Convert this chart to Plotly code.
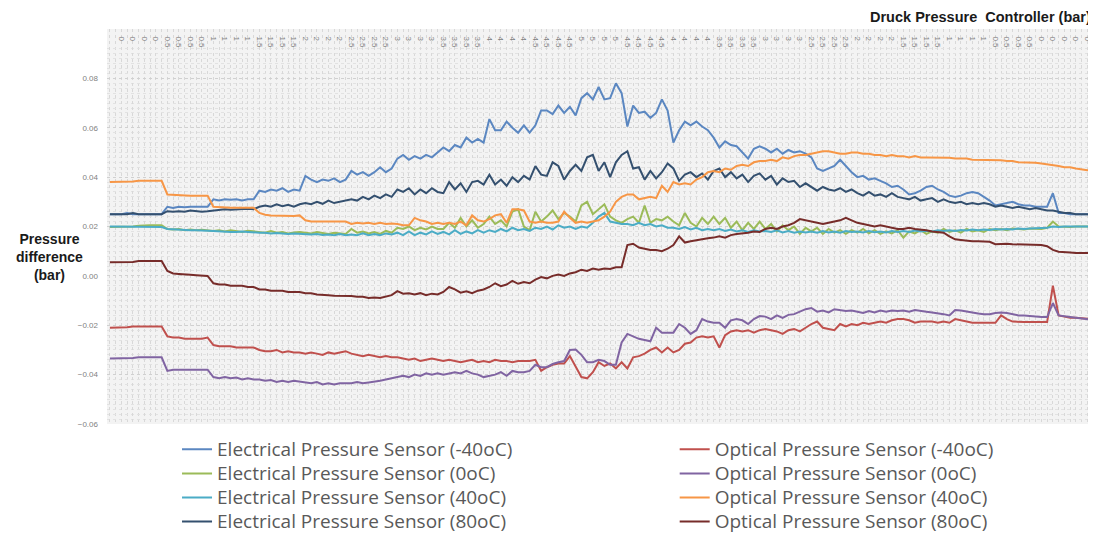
import plotly.graph_objects as go

# Druck pressure controller set-points (bar); each set-point held for several readings
controller_levels = [0, 0.5, 1, 1.5, 2, 2.5, 3, 3.5, 4, 4.5, 5, 4.5, 4, 3.5, 3, 2.5, 2, 1.5, 1, 0.5, 0]
readings_per_level = [10, 8, 8, 8, 8, 8, 8, 8, 8, 8, 8, 8, 8, 8, 8, 8, 8, 8, 8, 8, 10]

electrical_names = [
    "Electrical Pressure Sensor (-40oC)", "Electrical Pressure Sensor (0oC)",
    "Electrical Pressure Sensor (40oC)", "Electrical Pressure Sensor (80oC)",
]
optical_names = [
    "Optical Pressure Sensor (-40oC)", "Optical Pressure Sensor (0oC)",
    "Optical Pressure Sensor (40oC)", "Optical Pressure Sensor (80oC)",
]

elec_m40 = [
    0.025, 0.025, 0.025, 0.0255, 0.025, 0.025, 0.025, 0.025, 0.025, 0.025,
    0.028, 0.0275, 0.028, 0.0278, 0.028, 0.028, 0.0278, 0.028,
    0.031, 0.0305, 0.031, 0.0308, 0.031, 0.0305, 0.031, 0.031,
    0.0345, 0.034, 0.035, 0.0345, 0.0355, 0.034, 0.035, 0.0345,
    0.0405, 0.039, 0.038, 0.039, 0.0385, 0.0395, 0.038, 0.039,
    0.0425, 0.041, 0.042, 0.0405, 0.042, 0.044, 0.042, 0.0435,
    0.0475, 0.049, 0.047, 0.0485, 0.0475, 0.049, 0.048, 0.050,
    0.052, 0.0505, 0.053, 0.052, 0.056, 0.054, 0.0555, 0.054,
    0.0635, 0.059, 0.059, 0.0625, 0.060, 0.058, 0.061, 0.058,
    0.061, 0.067, 0.067, 0.0655, 0.069, 0.066, 0.0685, 0.065,
    0.072, 0.074, 0.0715, 0.0765, 0.0715, 0.072, 0.078, 0.074,
    0.0605, 0.069, 0.066, 0.0665, 0.064, 0.066, 0.0715, 0.067,
    0.054, 0.059, 0.0625, 0.061, 0.0625, 0.0605, 0.059, 0.056,
    0.052, 0.0545, 0.053, 0.0525, 0.050, 0.0475, 0.0515, 0.0525,
    0.0515, 0.050, 0.0515, 0.0495, 0.051, 0.050, 0.0505, 0.0495,
    0.048, 0.0435, 0.0425, 0.0435, 0.0445, 0.047, 0.0445, 0.042,
    0.040, 0.0405, 0.039, 0.0395, 0.0385, 0.0375, 0.036, 0.0365,
    0.035, 0.033, 0.0335, 0.0345, 0.036, 0.0365, 0.035, 0.034,
    0.0325, 0.032, 0.0325, 0.0335, 0.034, 0.0335, 0.032, 0.0305,
    0.0285, 0.029, 0.0295, 0.030, 0.029, 0.0285, 0.0285, 0.028,
    0.028, 0.028, 0.0335, 0.0255, 0.0255, 0.025, 0.025, 0.025, 0.025, 0.025,
]

elec_0 = [
    0.0198, 0.0198, 0.0198, 0.020, 0.020, 0.0203, 0.0205, 0.0205, 0.0205, 0.0205,
    0.019, 0.0188, 0.019, 0.0185, 0.0188, 0.0185, 0.0187, 0.0185,
    0.0182, 0.0185, 0.018, 0.0185, 0.0182, 0.0178, 0.0183, 0.018,
    0.0178, 0.0175, 0.0182, 0.0175, 0.0178, 0.0172, 0.0176, 0.0178,
    0.0175, 0.0172, 0.0178, 0.0173, 0.017, 0.0175, 0.0172, 0.017,
    0.019, 0.0175, 0.018, 0.0172, 0.0178, 0.017, 0.0182, 0.0175,
    0.0195, 0.019, 0.020, 0.0185, 0.0195, 0.0188, 0.020, 0.019,
    0.019, 0.0215, 0.0195, 0.0235, 0.020, 0.0225, 0.0195, 0.021,
    0.024, 0.021, 0.0225, 0.020, 0.026, 0.027, 0.020, 0.0185,
    0.026, 0.022, 0.024, 0.0265, 0.023, 0.0255, 0.024, 0.022,
    0.0285, 0.030, 0.025, 0.027, 0.029, 0.024, 0.0225, 0.0215,
    0.023, 0.024, 0.0215, 0.0285, 0.0215, 0.023, 0.0225, 0.024,
    0.022, 0.0205, 0.0255, 0.0215, 0.020, 0.0235, 0.021, 0.024,
    0.021, 0.0235, 0.0195, 0.022, 0.0185, 0.0215, 0.019, 0.022,
    0.019, 0.021, 0.018, 0.0205, 0.0185, 0.020, 0.017, 0.0195,
    0.018, 0.0195, 0.017, 0.019, 0.0175, 0.0185, 0.017, 0.0185,
    0.0175, 0.019, 0.0172, 0.0185, 0.017, 0.018, 0.0172, 0.0185,
    0.0155, 0.018, 0.0172, 0.0185, 0.017, 0.018, 0.0175, 0.019,
    0.0178, 0.0185, 0.0175, 0.019, 0.018, 0.0185, 0.0178, 0.019,
    0.0185, 0.019, 0.0185, 0.0192, 0.019, 0.0188, 0.0192, 0.019,
    0.019, 0.0195, 0.022, 0.020, 0.0198, 0.0198, 0.020, 0.020, 0.020, 0.020,
]

elec_40 = [
    0.020, 0.020, 0.020, 0.020, 0.0198, 0.0198, 0.0198, 0.0198, 0.0198, 0.0198,
    0.019, 0.0188, 0.0188, 0.0185, 0.0185, 0.0185, 0.0183, 0.0183,
    0.0182, 0.018, 0.018, 0.0178, 0.0178, 0.018, 0.0178, 0.0176,
    0.0175, 0.0175, 0.0172, 0.0174, 0.0172, 0.017, 0.0172, 0.017,
    0.017, 0.0168, 0.017, 0.0166, 0.0168, 0.0165, 0.017, 0.0165,
    0.0168, 0.0165, 0.0172, 0.0165, 0.017, 0.0165, 0.0172, 0.0168,
    0.0175, 0.0165, 0.018, 0.0165, 0.0175, 0.0168, 0.018, 0.017,
    0.0178, 0.0168, 0.0185, 0.017, 0.018, 0.0172, 0.0185, 0.0175,
    0.0185, 0.0178, 0.019, 0.018, 0.0195, 0.0185, 0.019, 0.0182,
    0.0195, 0.019, 0.020, 0.0188, 0.0205, 0.0195, 0.020, 0.019,
    0.020, 0.0195, 0.0215, 0.024, 0.0255, 0.022, 0.0215, 0.021,
    0.021, 0.0205, 0.0215, 0.0205, 0.021, 0.020, 0.0205, 0.0195,
    0.0195, 0.019, 0.0198, 0.0188, 0.0195, 0.0185, 0.019, 0.0185,
    0.019, 0.0182, 0.0188, 0.018, 0.0185, 0.0178, 0.0185, 0.018,
    0.0182, 0.0178, 0.0185, 0.0176, 0.0182, 0.0175, 0.018, 0.0176,
    0.018, 0.0175, 0.0182, 0.0176, 0.018, 0.0175, 0.0182, 0.0178,
    0.018, 0.0176, 0.0182, 0.0177, 0.018, 0.0176, 0.0182, 0.0178,
    0.0182, 0.0178, 0.0184, 0.018, 0.0183, 0.018, 0.0185, 0.0182,
    0.0185, 0.0182, 0.0186, 0.0184, 0.0188, 0.0185, 0.0188, 0.0186,
    0.019, 0.0188, 0.019, 0.0188, 0.0192, 0.019, 0.0192, 0.0192,
    0.0195, 0.0195, 0.020, 0.0198, 0.020, 0.020, 0.020, 0.020, 0.020, 0.020,
]

elec_80 = [
    0.025, 0.025, 0.025, 0.025, 0.0255, 0.025, 0.025, 0.025, 0.025, 0.025,
    0.0262, 0.026, 0.0262, 0.026, 0.0265, 0.0262, 0.026, 0.0262,
    0.0265, 0.0268, 0.027, 0.0268, 0.027, 0.027, 0.0272, 0.027,
    0.028, 0.0285, 0.028, 0.029, 0.0282, 0.0288, 0.028, 0.029,
    0.0295, 0.029, 0.030, 0.0292, 0.0305, 0.0295, 0.030, 0.0305,
    0.031, 0.0305, 0.032, 0.031, 0.0325, 0.0315, 0.033, 0.032,
    0.035, 0.034, 0.0355, 0.033, 0.035, 0.0335, 0.0355, 0.034,
    0.0335, 0.038, 0.035, 0.0375, 0.034, 0.038, 0.0385, 0.037,
    0.041, 0.037, 0.039, 0.0365, 0.040, 0.038, 0.0405, 0.039,
    0.0445, 0.041, 0.0405, 0.046, 0.0445, 0.039, 0.0425, 0.045,
    0.0425, 0.048, 0.049, 0.0425, 0.046, 0.040, 0.046, 0.049,
    0.0505, 0.0435, 0.044, 0.039, 0.0425, 0.0395, 0.042, 0.0455,
    0.0435, 0.0385, 0.041, 0.042, 0.040, 0.0415, 0.039, 0.0425,
    0.0435, 0.040, 0.042, 0.0395, 0.041, 0.038, 0.0405, 0.0415,
    0.039, 0.0405, 0.037, 0.0395, 0.038, 0.0385, 0.036, 0.0375,
    0.036, 0.0345, 0.036, 0.035, 0.0345, 0.0355, 0.034, 0.035,
    0.0335, 0.0325, 0.034, 0.0325, 0.033, 0.032, 0.0335, 0.032,
    0.0315, 0.031, 0.032, 0.0305, 0.031, 0.0315, 0.030, 0.031,
    0.030, 0.0295, 0.030, 0.029, 0.0295, 0.029, 0.0295, 0.029,
    0.028, 0.0285, 0.028, 0.0275, 0.028, 0.0275, 0.027, 0.0275,
    0.027, 0.0265, 0.0265, 0.026, 0.0255, 0.0255, 0.025, 0.025, 0.025, 0.025,
]

opt_m40 = [
    -0.021, -0.021, -0.0208, -0.0208, -0.0205, -0.0205, -0.0205, -0.0205, -0.0205, -0.0205,
    -0.0245, -0.025, -0.025, -0.0255, -0.0255, -0.0255, -0.0255, -0.025,
    -0.028, -0.0285, -0.0285, -0.0285, -0.029, -0.029, -0.029, -0.029,
    -0.030, -0.0305, -0.0305, -0.030, -0.031, -0.0305, -0.031, -0.031,
    -0.0315, -0.031, -0.0315, -0.032, -0.031, -0.0315, -0.031, -0.0305,
    -0.0315, -0.032, -0.0325, -0.032, -0.0325, -0.033, -0.0325, -0.033,
    -0.033, -0.0335, -0.034, -0.0335, -0.0345, -0.034, -0.0335, -0.034,
    -0.0345, -0.034, -0.0345, -0.035, -0.0345, -0.034, -0.035, -0.0345,
    -0.035, -0.034, -0.0345, -0.0345, -0.035, -0.0345, -0.0345, -0.0345,
    -0.034, -0.0385, -0.037, -0.036, -0.0355, -0.0355, -0.0325, -0.037,
    -0.041, -0.0415, -0.039, -0.035, -0.0365, -0.0355, -0.0375, -0.035,
    -0.0375, -0.033, -0.0325, -0.0315, -0.030, -0.029, -0.031, -0.029,
    -0.031, -0.030, -0.0275, -0.027, -0.025, -0.0245, -0.025, -0.0245,
    -0.029, -0.024, -0.0225, -0.022, -0.0225, -0.022, -0.023, -0.022,
    -0.0215, -0.022, -0.0225, -0.0235, -0.022, -0.0215, -0.0225, -0.021,
    -0.0195, -0.0185, -0.021, -0.0215, -0.022, -0.0195, -0.0205, -0.0195,
    -0.020, -0.019, -0.0195, -0.019, -0.0185, -0.019, -0.018, -0.0175,
    -0.0175, -0.018, -0.019, -0.0185, -0.0185, -0.0185, -0.019, -0.0185,
    -0.019, -0.0175, -0.018, -0.0185, -0.019, -0.019, -0.019, -0.019,
    -0.019, -0.016, -0.0175, -0.0185, -0.0187, -0.0187, -0.0187, -0.0187,
    -0.0187, -0.0187, -0.004, -0.016, -0.0165, -0.017, -0.017, -0.0172, -0.0175, -0.0175,
]

opt_0 = [
    -0.0335, -0.0335, -0.0335, -0.0333, -0.0333, -0.033, -0.033, -0.033, -0.033, -0.033,
    -0.0385, -0.038, -0.038, -0.038, -0.0378, -0.0378, -0.038, -0.038,
    -0.041, -0.0415, -0.041, -0.0415, -0.0412, -0.042, -0.0415, -0.042,
    -0.042, -0.0425, -0.0422, -0.043, -0.0425, -0.043, -0.0425, -0.0428,
    -0.043, -0.0435, -0.043, -0.044, -0.0435, -0.044, -0.0435, -0.0435,
    -0.0435, -0.043, -0.0435, -0.0432, -0.043, -0.0425, -0.042, -0.0415,
    -0.041, -0.0405, -0.041, -0.040, -0.0405, -0.0395, -0.040, -0.0395,
    -0.040, -0.0395, -0.039, -0.0395, -0.0385, -0.0395, -0.040, -0.041,
    -0.0405, -0.040, -0.039, -0.0405, -0.0385, -0.039, -0.039, -0.0385,
    -0.036, -0.037, -0.037, -0.0357, -0.035, -0.0345, -0.030, -0.0298,
    -0.032, -0.035, -0.035, -0.034, -0.0345, -0.036, -0.036, -0.027,
    -0.0235, -0.0245, -0.0255, -0.026, -0.0265, -0.021, -0.023, -0.023,
    -0.023, -0.0195, -0.021, -0.0235, -0.022, -0.0175, -0.0185, -0.019,
    -0.019, -0.021, -0.018, -0.0175, -0.018, -0.0195, -0.0175, -0.0163,
    -0.0165, -0.0175, -0.016, -0.017, -0.0158, -0.0155, -0.0145, -0.0135,
    -0.013, -0.0145, -0.014, -0.0148, -0.0135, -0.014, -0.0142, -0.014,
    -0.0145, -0.015, -0.0142, -0.0148, -0.014, -0.0145, -0.014, -0.0142,
    -0.014, -0.0145, -0.0138, -0.014, -0.0145, -0.0148, -0.015, -0.0155,
    -0.016, -0.0138, -0.014, -0.0145, -0.015, -0.0152, -0.0155, -0.0155,
    -0.015, -0.0148, -0.015, -0.0155, -0.016, -0.016, -0.0163, -0.0165,
    -0.0167, -0.0167, -0.011, -0.016, -0.0165, -0.0167, -0.017, -0.0172, -0.0175, -0.0178,
]

opt_40 = [
    0.038, 0.038, 0.038, 0.038, 0.0382, 0.0385, 0.0385, 0.0385, 0.0385, 0.0385,
    0.033, 0.0328, 0.0328, 0.0325, 0.0325, 0.0325, 0.0325, 0.0325,
    0.028, 0.0278, 0.0276, 0.0276, 0.0276, 0.0275, 0.0275, 0.0276,
    0.0255, 0.0248, 0.0245, 0.0244, 0.0244, 0.0243, 0.0243, 0.0245,
    0.0225, 0.022, 0.022, 0.0218, 0.022, 0.0218, 0.0218, 0.022,
    0.021, 0.0215, 0.0212, 0.0215, 0.021, 0.0215, 0.021, 0.0212,
    0.021, 0.0205, 0.0205, 0.0235, 0.0225, 0.022, 0.021, 0.0215,
    0.021, 0.0215, 0.021, 0.022, 0.0205, 0.0245, 0.0225, 0.022,
    0.023, 0.0245, 0.025, 0.0215, 0.027, 0.027, 0.0265, 0.022,
    0.0215, 0.022, 0.0215, 0.0215, 0.022, 0.026, 0.0235, 0.0215,
    0.022, 0.0215, 0.022, 0.0225, 0.024, 0.026, 0.030, 0.032,
    0.033, 0.033, 0.031, 0.0315, 0.032, 0.0315, 0.0365, 0.034,
    0.038, 0.037, 0.0375, 0.037, 0.039, 0.040, 0.042, 0.0425,
    0.042, 0.0435, 0.043, 0.0445, 0.045, 0.0445, 0.046, 0.0465,
    0.0465, 0.047, 0.0465, 0.048, 0.0475, 0.0485, 0.049, 0.049,
    0.0495, 0.050, 0.0505, 0.0505, 0.050, 0.0495, 0.0495, 0.050,
    0.050, 0.0495, 0.0495, 0.049, 0.049, 0.0485, 0.049, 0.0485,
    0.0485, 0.048, 0.0485, 0.048, 0.048, 0.048, 0.0478, 0.048,
    0.0478, 0.0475, 0.0475, 0.0475, 0.047, 0.047, 0.047, 0.047,
    0.047, 0.0468, 0.0465, 0.0465, 0.046, 0.046, 0.046, 0.0458,
    0.0455, 0.0452, 0.045, 0.0445, 0.044, 0.044, 0.0435, 0.043, 0.0428, 0.0425,
]

opt_80 = [
    0.0055, 0.0055, 0.0055, 0.0056, 0.0056, 0.006, 0.006, 0.006, 0.006, 0.006,
    0.002, 0.001, 0.0008, 0.0005, 0.0005, 0.0003, 0.0, 0.0,
    -0.003, -0.0035, -0.0035, -0.004, -0.004, -0.004, -0.0045, -0.0045,
    -0.0055, -0.0055, -0.006, -0.006, -0.006, -0.0065, -0.0065, -0.0065,
    -0.007, -0.007, -0.0075, -0.0075, -0.0078, -0.008, -0.008, -0.008,
    -0.0082, -0.0085, -0.0085, -0.009, -0.0088, -0.009, -0.0085, -0.0078,
    -0.0062, -0.0072, -0.007, -0.0075, -0.007, -0.0078, -0.0072, -0.0075,
    -0.0065, -0.0045, -0.0055, -0.0068, -0.0062, -0.007, -0.006, -0.0055,
    -0.0045, -0.003, -0.0042, -0.0035, -0.002, -0.0032, -0.0025, -0.003,
    -0.0015, -0.0005, -0.001, 0.0, 0.0005, 0.0, 0.001, 0.0015,
    0.0025, 0.002, 0.003, 0.0025, 0.003, 0.0028, 0.0035, 0.0035,
    0.0125, 0.013, 0.0115, 0.011, 0.0105, 0.0105, 0.010, 0.011,
    0.0125, 0.016, 0.0135, 0.014, 0.0145, 0.015, 0.0152, 0.0155,
    0.016, 0.0155, 0.0165, 0.017, 0.0172, 0.0175, 0.018, 0.0178,
    0.019, 0.0195, 0.019, 0.020, 0.0205, 0.0215, 0.023, 0.0225,
    0.022, 0.0215, 0.021, 0.0215, 0.022, 0.0225, 0.0235, 0.0225,
    0.0215, 0.021, 0.0205, 0.020, 0.0205, 0.020, 0.0195, 0.019,
    0.019, 0.0195, 0.019, 0.0188, 0.0185, 0.018, 0.0178, 0.0175,
    0.016, 0.0148, 0.0145, 0.0142, 0.014, 0.014, 0.0138, 0.0138,
    0.0128, 0.013, 0.013, 0.0128, 0.0128, 0.0126, 0.0126, 0.0125,
    0.0125, 0.012, 0.0105, 0.0098, 0.0095, 0.0095, 0.0093, 0.0093, 0.0092, 0.0092,
]

electrical_values = [elec_m40, elec_0, elec_40, elec_80]
optical_values = [opt_m40, opt_0, opt_40, opt_80]
electrical_colors = ["#5B87C1", "#9BBB59", "#4BACC6", "#34506F"]
optical_colors = ["#C0504D", "#8064A2", "#F79646", "#772C2A"]

# category axis: one entry per reading
category_labels = []
for lvl, n in zip(controller_levels, readings_per_level):
    category_labels += [f"{lvl:g}"] * n
n_cat = len(category_labels)
for v in electrical_values + optical_values:
    assert len(v) == n_cat, len(v)

x_idx = list(range(n_cat))
tick_vals = x_idx[::2]
tick_text = category_labels[::2]


def legend_label(name):
    # larger glyphs than the legend's row pitch, as in the original legend
    return f'<span style="font-size:19px">{name}</span>'


fig = go.Figure()
for name, vals, col in zip(electrical_names, electrical_values, electrical_colors):
    fig.add_trace(go.Scatter(x=x_idx, y=vals, mode="lines", name=legend_label(name),
                             line=dict(color=col, width=2), legend="legend"))
for name, vals, col in zip(optical_names, optical_values, optical_colors):
    fig.add_trace(go.Scatter(x=x_idx, y=vals, mode="lines", name=legend_label(name),
                             line=dict(color=col, width=2), legend="legend2"))

legend_font = dict(family="Open Sans, sans-serif", size=16.2, color="#595959")
legend_common = dict(orientation="v", yanchor="top", xanchor="left", y=-0.021,
                     font=legend_font, bgcolor="rgba(0,0,0,0)", tracegroupgap=0,
                     borderwidth=0)

grid_col = "#d8d8d8"
fig.update_layout(
    width=1088, height=526,
    margin=dict(l=99, r=0, t=21, b=110, autoexpand=False),
    paper_bgcolor="white",
    plot_bgcolor="#f3f3f3",
    font=dict(family="Liberation Sans, Arial, sans-serif", color="#595959"),
    showlegend=True,
    legend=dict(x=0.0708, **legend_common),
    legend2=dict(x=0.574, **legend_common),
    xaxis=dict(
        range=[-0.5, n_cat - 0.5],
        side="top",
        tickmode="array", tickvals=tick_vals, ticktext=tick_text,
        tickangle=90,
        ticklabelposition="inside",
        tickfont=dict(size=8, color="#7f7f7f"),
        ticks="",
        showgrid=True, gridcolor=grid_col, griddash="dot", gridwidth=1,
        minor=dict(dtick=1, tick0=0, showgrid=True, gridcolor=grid_col, griddash="dot", gridwidth=1),
        zeroline=False, showline=False,
    ),
    yaxis=dict(
        range=[-0.06, 0.10],
        tickmode="linear", tick0=-0.06, dtick=0.02,
        tickformat=".2f",
        tickfont=dict(size=8, color="#7f7f7f"),
        ticks="", ticklabelstandoff=8,
        showgrid=True, gridcolor="#d0d0d0", griddash="dot", gridwidth=1,
        minor=dict(dtick=0.002, showgrid=True, gridcolor="#e2e2e2", griddash="dot", gridwidth=1),
        zeroline=False, showline=False,
    ),
    annotations=[
        dict(text="<b>Druck Pressure\u00a0 Controller (bar)</b>", xref="paper", yref="paper",
             x=1.0, y=1.0, xanchor="right", yanchor="bottom", xshift=-3, yshift=2, showarrow=False,
             font=dict(family="Liberation Sans, Arial, sans-serif", size=14.5, color="#1a1a1a")),
        dict(text="<b>Pressure<br>difference<br>(bar)</b>", xref="paper", yref="paper",
             x=0, y=(0.0078 + 0.06) / 0.16, xanchor="center", yanchor="middle", xshift=-58,
             showarrow=False, align="center",
             font=dict(family="Liberation Sans, Arial, sans-serif", size=14, color="#1a1a1a")),
    ],
)

fig.write_html("out.html")
